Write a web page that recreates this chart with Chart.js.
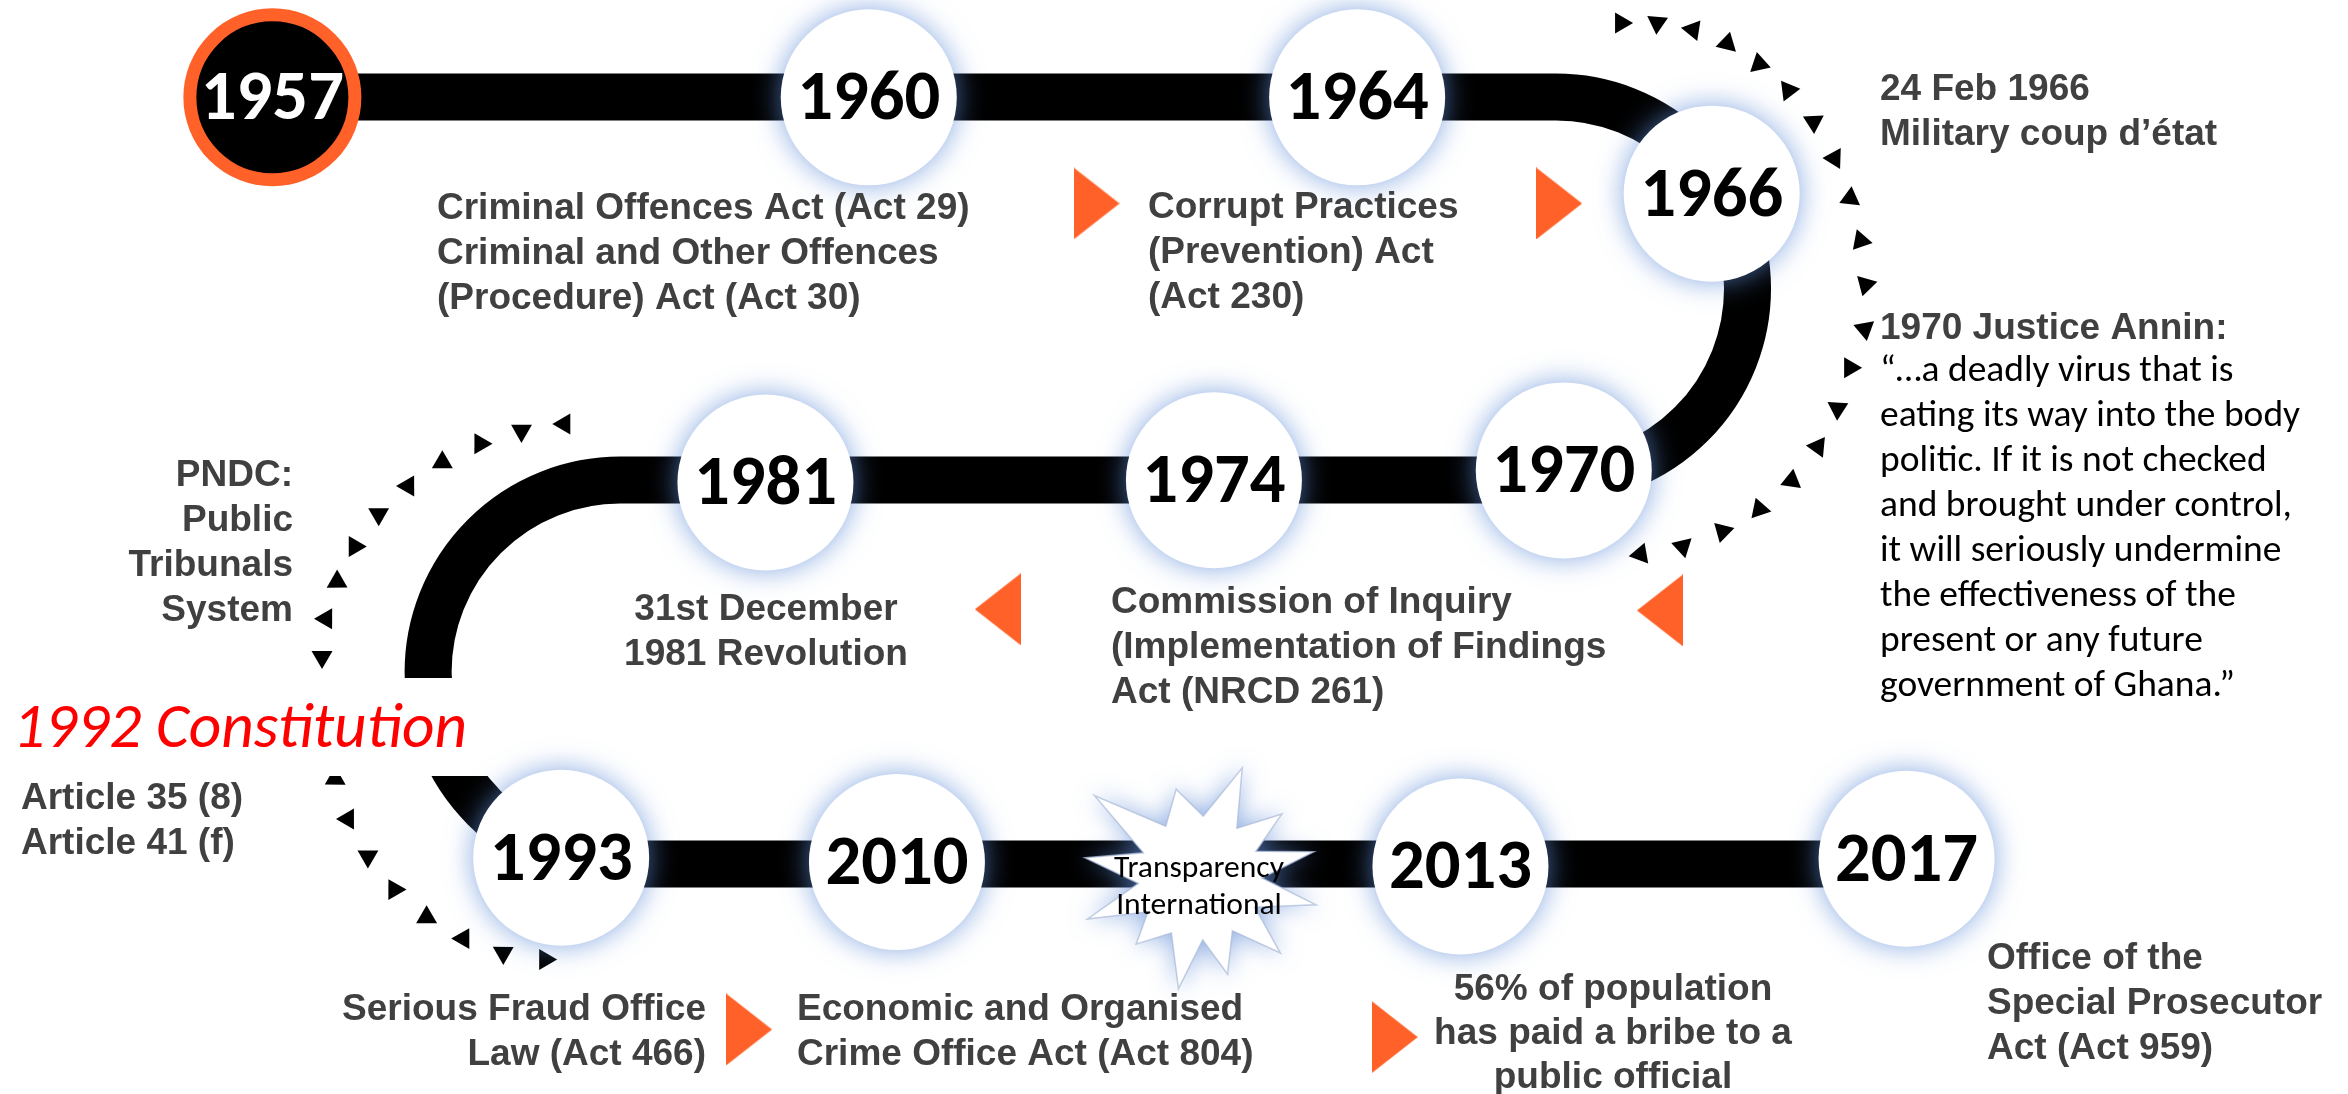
<!DOCTYPE html>
<html>
<head>
<meta charset="utf-8">
<script src="https://cdn.jsdelivr.net/npm/chart.js@4.4.1/dist/chart.umd.min.js"></script>
<style>
html,body{margin:0;padding:0;background:#ffffff;overflow:hidden;}
canvas{display:block;}
</style>
</head>
<body>
<canvas id="c" width="2348" height="1094"></canvas>
<script>
// ===================== DATA =====================
// Milestones on the winding road (position along the road, 0–100 units each way)
const years  = ['1957','1960','1964','1966','1970','1974','1981','1993','2010','2013','2017'];
const trackX = [11.6, 37.0, 57.8, 72.9, 66.6, 51.7, 32.6, 23.9, 38.2, 62.2, 81.2];
const trackY = [8.9, 8.9, 8.9, 17.7, 43.0, 43.9, 44.1, 78.4, 78.8, 79.2, 78.5];

// The road: three rows joined by a right-hand and a left-hand bend
const roadRows  = [8.87, 43.88, 78.98];
const roadBends = [66.27, 26.41];

// Orange direction markers between milestones
const flowX   = [46.7, 66.4, 42.5, 70.7, 31.9, 59.4];
const flowY   = [18.6, 18.6, 55.7, 55.8, 94.1, 94.8];
const flowDir = [0, 0, 180, 180, 0, 0];

// Annotation texts
const notes = [
  ['Criminal Offences Act (Act 29)', 'Criminal and Other Offences', '(Procedure) Act (Act 30)'],
  ['Corrupt Practices', '(Prevention) Act', '(Act 230)'],
  ['24 Feb 1966', 'Military coup d\u2019\u00e9tat'],
  ['1970 Justice Annin:'],
  ['\u201c\u2026a deadly virus that is', 'eating its way into the body', 'politic. If it is not checked',
   'and brought under control,', 'it will seriously undermine', 'the effectiveness of the',
   'present or any future', 'government of Ghana.\u201d'],
  ['PNDC:', 'Public', 'Tribunals', 'System'],
  ['31st December', '1981 Revolution'],
  ['Commission of Inquiry', '(Implementation of Findings', 'Act (NRCD 261)'],
  ['1992 Constitution'],
  ['Article 35 (8)', 'Article 41 (f)'],
  ['Serious Fraud Office', 'Law (Act 466)'],
  ['Economic and Organised', 'Crime Office Act (Act 804)'],
  ['56% of population', 'has paid a bribe to a', 'public official'],
  ['Office of the', 'Special Prosecutor', 'Act (Act 959)'],
  ['Transparency', 'International']
];

// ===================== LAYOUT / STYLE (design pixels) =====================
const DW = 2348, DH = 1094;
const noteLayout = [
  {x:437,  y:219,  align:'left',   style:'label'},
  {x:1148, y:218,  align:'left',   style:'label'},
  {x:1880, y:100,  align:'left',   style:'label'},
  {x:1880, y:339,  align:'left',   style:'label'},
  {x:1880, y:381,  align:'left',   style:'quote'},
  {x:293,  y:486,  align:'right',  style:'label'},
  {x:766,  y:620,  align:'center', style:'label'},
  {x:1111, y:613,  align:'left',   style:'label'},
  {x:13,   y:747,  align:'left',   style:'title'},
  {x:21,   y:809,  align:'left',   style:'label'},
  {x:706,  y:1020, align:'right',  style:'label'},
  {x:797,  y:1020, align:'left',   style:'label'},
  {x:1613, y:1000, align:'center', style:'label', lh:44},
  {x:1987, y:969,  align:'left',   style:'label'},
  {x:1199, y:877,  align:'center', style:'star'}
];
const CAL = '"Carlito", "Lato", "Open Sans", sans-serif';
const ORANGE = '#ff6128';
const GREY = '#404040';
const ROAD_W = 47;
const YEAR_DIGIT_H = 48, YEAR_W = 146;

// dotted triangle arcs (ellipse centre, radii, param angles, count, orientation range)
const dotArcs = [
  {cx:1640, cy:300, rx:226, ry:278, t0:-94.8, t1:6,    n:12, o0:0,   o1:-280},
  {cx:1620, cy:320, rx:235, ry:235, t0:11.7,  t1:85,   n:8,  o0:0,   o1:-190},
  {cx:590,  cy:660, rx:268, ry:237, t0:264.5, t1:180.7,n:10, o0:180, o1:450},
  {cx:560,  cy:730, rx:230, ry:230, t0:167.8, t1:93.7, n:8,  o0:150, o1:360}
];
const labelMask = {x0:0, y0:678, x1:600, y1:776};
const burst = {cx:1200, cy:878, inner:62,
  tips:[[-170,117],[-142,134],[-105,92],[-69,118],[-38,104],[-13,117],[13,119],[43,110],[74,100],[101,113],[134,92],[160,120]]};

// ===================== HELPERS =====================
function fitSize(ctx, font, text, target) {
  ctx.font = font.replace('{s}', '100');
  const w = ctx.measureText(text).width;
  return 100 * target / w;
}

function makeArrowCanvas() {
  const c = document.createElement('canvas');
  c.width = 46; c.height = 72;
  const g = c.getContext('2d');
  g.fillStyle = ORANGE;
  g.beginPath(); g.moveTo(0,0); g.lineTo(46,36); g.lineTo(0,72); g.closePath(); g.fill();
  return c;
}

function build() {
  const ctx0 = document.getElementById('c').getContext('2d');
  // year labels: size from digit height, then condensed to the measured width
  const yearFontT = 'bold {s}px ' + CAL;
  ctx0.font = yearFontT.replace('{s}', '100');
  const m100 = ctx0.measureText('1964');
  const digitH100 = m100.actualBoundingBoxAscent || 72;
  const yearSize = 100 * YEAR_DIGIT_H / digitH100;
  const yearSquash = Math.min(1, YEAR_W / (m100.width * yearSize / 100));

  const quoteFont = '{s}px ' + CAL;
  const quoteSize = fitSize(ctx0, quoteFont, 'eating its way into the body', 420);
  const titleFont = 'italic {s}px ' + CAL;
  const titleSize = fitSize(ctx0, titleFont, '1992 Constitution', 454);
  const starFont = '{s}px ' + CAL;
  const starSize = fitSize(ctx0, starFont, 'Transparency', 170);

  const styles = {
    label: {font:'bold 37px "Liberation Sans", Arial, sans-serif', color:GREY, lh:45},
    quote: {font:quoteFont.replace('{s}', quoteSize.toFixed(2)), color:'#000000', lh:45},
    title: {font:titleFont.replace('{s}', titleSize.toFixed(2)), color:'#ff0000', lh:50},
    star:  {font:starFont.replace('{s}', starSize.toFixed(2)), color:'#000000', lh:37}
  };

  const decor = {
    id: 'timelineDecor',
    beforeDatasetsDraw(chart) {
      const ctx = chart.ctx, a = chart.chartArea;
      const sx = v => a.left + v * (a.right - a.left) / DW;
      const sy = v => a.top + v * (a.bottom - a.top) / DH;
      const X = v => chart.scales.x.getPixelForValue(v);
      const Y = v => chart.scales.y.getPixelForValue(v);

      // --- road ---
      const r1 = Y(roadRows[0]), r2 = Y(roadRows[1]), r3 = Y(roadRows[2]);
      const bR = X(roadBends[0]), bL = X(roadBends[1]);
      ctx.save();
      ctx.beginPath();
      ctx.moveTo(X(trackX[0]), r1);
      ctx.lineTo(bR, r1);
      ctx.arc(bR, (r1 + r2) / 2, (r2 - r1) / 2, -Math.PI / 2, Math.PI / 2, false);
      ctx.lineTo(bL, r2);
      ctx.arc(bL, (r2 + r3) / 2, (r3 - r2) / 2, -Math.PI / 2, Math.PI / 2, true);
      ctx.lineTo(X(trackX[trackX.length - 1]), r3);
      ctx.lineWidth = ROAD_W;
      ctx.strokeStyle = '#000000';
      ctx.lineJoin = 'round';
      ctx.stroke();
      ctx.restore();

      // --- dotted arrow arcs ---
      ctx.save();
      ctx.fillStyle = '#000000';
      dotArcs.forEach(d => {
        for (let k = 0; k < d.n; k++) {
          const f = k / (d.n - 1);
          const t = (d.t0 + (d.t1 - d.t0) * f) * Math.PI / 180;
          const px = sx(d.cx + d.rx * Math.cos(t));
          const py = sy(d.cy + d.ry * Math.sin(t));
          const o = (d.o0 + (d.o1 - d.o0) * f) * Math.PI / 180;
          ctx.save();
          ctx.translate(px, py);
          ctx.rotate(o);
          ctx.beginPath();
          ctx.moveTo(12, 0); ctx.lineTo(-6, -10.5); ctx.lineTo(-6, 10.5);
          ctx.closePath(); ctx.fill();
          ctx.restore();
        }
      });
      ctx.restore();

      // --- white band behind the "1992 Constitution" title ---
      ctx.save();
      ctx.fillStyle = '#ffffff';
      ctx.fillRect(sx(labelMask.x0), sy(labelMask.y0), sx(labelMask.x1) - sx(labelMask.x0), sy(labelMask.y1) - sy(labelMask.y0));
      ctx.restore();

      // --- starburst ---
      ctx.save();
      ctx.beginPath();
      const tips = burst.tips;
      for (let i = 0; i < tips.length; i++) {
        const [ang, r] = tips[i];
        const nxt = tips[(i + 1) % tips.length];
        let mid = (ang + (nxt[0] < ang ? nxt[0] + 360 : nxt[0])) / 2;
        const ta = ang * Math.PI / 180, ma = mid * Math.PI / 180;
        const tx = sx(burst.cx + r * Math.cos(ta)), ty = sy(burst.cy + r * Math.sin(ta));
        if (i === 0) ctx.moveTo(tx, ty); else ctx.lineTo(tx, ty);
        ctx.lineTo(sx(burst.cx + burst.inner * Math.cos(ma)), sy(burst.cy + burst.inner * Math.sin(ma)));
      }
      ctx.closePath();
      ctx.shadowColor = 'rgba(95,140,215,0.7)';
      ctx.shadowBlur = 24;
      ctx.fillStyle = '#ffffff';
      ctx.fill();
      ctx.shadowBlur = 0; ctx.shadowColor = 'transparent';
      ctx.lineWidth = 1.5;
      ctx.strokeStyle = 'rgba(170,185,215,0.7)';
      ctx.stroke();
      ctx.restore();
    },
    beforeDatasetDraw(chart, args) {
      if (args.index === 1) {
        chart.ctx.save();
        chart.ctx.shadowColor = 'rgba(95,140,215,0.75)';
        chart.ctx.shadowBlur = 28;
      }
    },
    afterDatasetDraw(chart, args) {
      if (args.index === 1) chart.ctx.restore();
    },
    afterDatasetsDraw(chart) {
      const ctx = chart.ctx, a = chart.chartArea;
      const sx = v => a.left + v * (a.right - a.left) / DW;
      const sy = v => a.top + v * (a.bottom - a.top) / DH;
      const X = v => chart.scales.x.getPixelForValue(v);
      const Y = v => chart.scales.y.getPixelForValue(v);

      // year labels
      ctx.save();
      ctx.font = yearFontT.replace('{s}', yearSize.toFixed(2));
      ctx.textAlign = 'center';
      ctx.textBaseline = 'alphabetic';
      years.forEach((yr, i) => {
        ctx.save();
        ctx.translate(X(trackX[i]), Y(trackY[i]) + YEAR_DIGIT_H / 2 - 2);
        ctx.scale(yearSquash, 1);
        ctx.fillStyle = i === 0 ? '#ffffff' : '#000000';
        ctx.fillText(yr, 0, 0);
        ctx.restore();
      });
      ctx.restore();

      // annotations
      notes.forEach((lines, i) => {
        const L = noteLayout[i];
        const st = styles[L.style];
        const lh = L.lh || st.lh;
        ctx.save();
        ctx.font = st.font;
        ctx.fillStyle = st.color;
        ctx.textAlign = L.align;
        ctx.textBaseline = 'alphabetic';
        lines.forEach((ln, j) => ctx.fillText(ln, sx(L.x), sy(L.y + j * lh)));
        ctx.restore();
      });
    }
  };

  const arrowImg = makeArrowCanvas();

  new Chart(document.getElementById('c'), {
    type: 'scatter',
    data: {
      datasets: [
        {
          label: 'Start',
          data: [{x: trackX[0], y: trackY[0]}],
          pointRadius: 82.5,
          pointBackgroundColor: '#000000',
          pointBorderColor: ORANGE,
          pointBorderWidth: 13
        },
        {
          label: 'Milestones',
          data: years.slice(1).map((y, i) => ({x: trackX[i + 1], y: trackY[i + 1]})),
          pointRadius: 88,
          pointBackgroundColor: '#ffffff',
          pointBorderWidth: 0
        },
        {
          label: 'Direction',
          data: flowX.map((x, i) => ({x: x, y: flowY[i]})),
          pointStyle: arrowImg,
          pointRotation: flowDir,
          pointRadius: 10
        }
      ]
    },
    options: {
      responsive: false,
      animation: false,
      events: [],
      clip: false,
      layout: {padding: 0, autoPadding: false},
      plugins: {legend: {display: false}, tooltip: {enabled: false}},
      scales: {
        x: {type: 'linear', min: 0, max: 100, display: false},
        y: {type: 'linear', min: 0, max: 100, reverse: true, display: false}
      }
    },
    plugins: [decor]
  });
}

const fontSpecs = ['bold 37px "Liberation Sans"', 'bold 60px Lato', '37px Lato', 'italic 50px Lato',
                   'bold 60px Carlito', '37px Carlito', 'italic 50px Carlito'];
let built = false;
function go() { if (!built) { built = true; build(); } }
Promise.all(fontSpecs.map(f => document.fonts.load(f).catch(() => null))).then(go, go);
setTimeout(go, 1500);
</script>
</body>
</html>
